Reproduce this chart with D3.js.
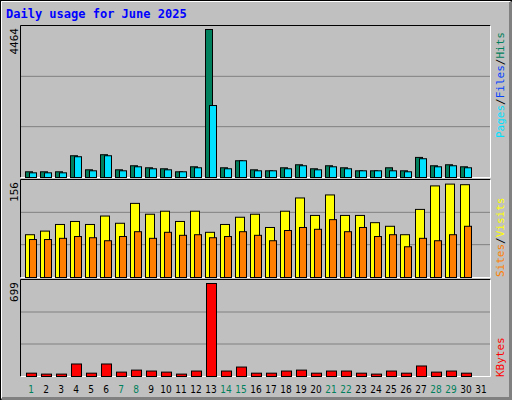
<!DOCTYPE html><html><head><script src="https://d3js.org/d3.v7.min.js"></script>
<style>body{margin:0;background:#fff}</style></head><body><svg id="c" width="512" height="400"></svg>
<script>
const days=d3.range(1,32);
const weekends=[1,7,8,14,15,21,22,28,29];
const hits=[172,172,172,656,232,687,232,354,293,263,172,323,4464,293,505,232,202,293,384,263,354,293,202,202,293,202,606,354,384,323];
const files=[141,141,141,626,202,656,202,323,263,232,172,293,2171,263,505,202,202,263,354,232,323,263,202,202,202,172,566,323,354,293];
const visits=[71,77,88,93,88,102,90,123,105,110,93,110,75,88,100,105,83,110,132,103,137,103,103,91,85,71,113,152,155,154];
const sites=[63,63,65,68,66,61,68,76,65,75,70,71,66,68,76,70,61,78,83,80,96,76,83,68,71,51,65,61,71,85];
const kbytes=[25,18,18,94,25,94,33,48,41,33,18,41,699,41,71,25,25,41,48,25,41,41,25,18,41,25,79,33,41,25];
const maxTop=4464,maxMid=156,maxBot=699;
const svg=d3.select("#c");
svg.append("rect").attr("x",0).attr("y",0).attr("width",512).attr("height",400).attr("fill","#c0c0c0");
svg.append("rect").attr("x",0.5).attr("y",0.5).attr("width",511).attr("height",399).attr("fill","none").attr("stroke","#000");
svg.append("path").attr("d","M1.5,398.5H510.5V1.5").attr("fill","none").attr("stroke","#808080").attr("stroke-width",3);
svg.append("path").attr("d","M1.5,398V1.5H510").attr("fill","none").attr("stroke","#fff").attr("stroke-width",1);
svg.append("text").attr("x",6).attr("y",18).attr("fill","#0000ff").attr("font-family","DejaVu Sans Mono").attr("font-weight","bold").attr("font-size",12).text("Daily usage for June 2025");
const x=d3.scaleLinear().domain([1,2]).range([25,40]);
const panels=[{t:26,b:177,max:maxTop,lab:"4464"},{t:180,b:277,max:maxMid,lab:"156"},{t:280,b:376,max:maxBot,lab:"699"}];
panels.forEach(p=>{
  svg.append("rect").attr("x",20.5).attr("y",p.t-0.5).attr("width",470).attr("height",p.b-p.t+1).attr("fill","#c0c0c0");
  const h=p.b-p.t;
  [1,2].forEach(k=>svg.append("line").attr("x1",21).attr("x2",490).attr("y1",p.t+h*k/3).attr("y2",p.t+h*k/3).attr("stroke","#808080"));
  svg.append("path").attr("d",`M20.5,${p.b+0.5}V${p.t-0.5}H490.5`).attr("fill","none").attr("stroke","#000");
  svg.append("path").attr("d",`M490.5,${p.t-0.5}V${p.b+0.5}H20.5`).attr("fill","none").attr("stroke","#fff");
  p.y=d3.scaleLinear().domain([0,p.max]).range([p.b,p.t+3]);
  svg.append("text").attr("transform",`translate(18,${p.t+2}) rotate(-90)`).attr("text-anchor","end").attr("font-family","DejaVu Sans Mono").attr("font-size",11).text(p.lab);
});
function bars(data,p,dx,w,col){
  svg.append("g").selectAll("rect").data(data).join("rect")
   .attr("x",(d,i)=>x(i+1)+dx+0.5).attr("y",d=>p.y(d)+0.5).attr("width",w).attr("height",d=>p.b-p.y(d))
   .attr("fill",col).attr("stroke","#000");
}
bars(hits,panels[0],0,7,"#00805c");
bars(files,panels[0],4,7,"#00e0ff");
bars(visits,panels[1],0,9,"#ffff00");
bars(sites,panels[1],4,7,"#ff8000");
bars(kbytes,panels[2],1,10,"#ff0000");
function vlabUp(yBottom,parts){
  const t=svg.append("text").attr("transform",`translate(504,${yBottom}) rotate(-90)`).attr("font-family","DejaVu Sans Mono").attr("font-size",11);
  parts.forEach(([s,c])=>t.append("tspan").attr("fill",c).text(s));
}
vlabUp(138,[["Pages","#00e0ff"],["/","#000"],["Files","#0040ff"],["/","#000"],["Hits","#00805c"]]);
vlabUp(277,[["Sites","#ff8000"],["/","#000"],["Visits","#ffff00"]]);
vlabUp(377,[["KBytes","#ff0000"]]);
svg.append("g").selectAll("text").data(days).join("text")
 .attr("x",d=>x(d)+6).attr("y",393).attr("text-anchor","middle").attr("font-family","DejaVu Sans Condensed, DejaVu Sans").attr("font-stretch","condensed").attr("font-size",10)
 .attr("fill",d=>weekends.includes(d)?"#00805c":"#000").text(d=>d);
</script></body></html>
